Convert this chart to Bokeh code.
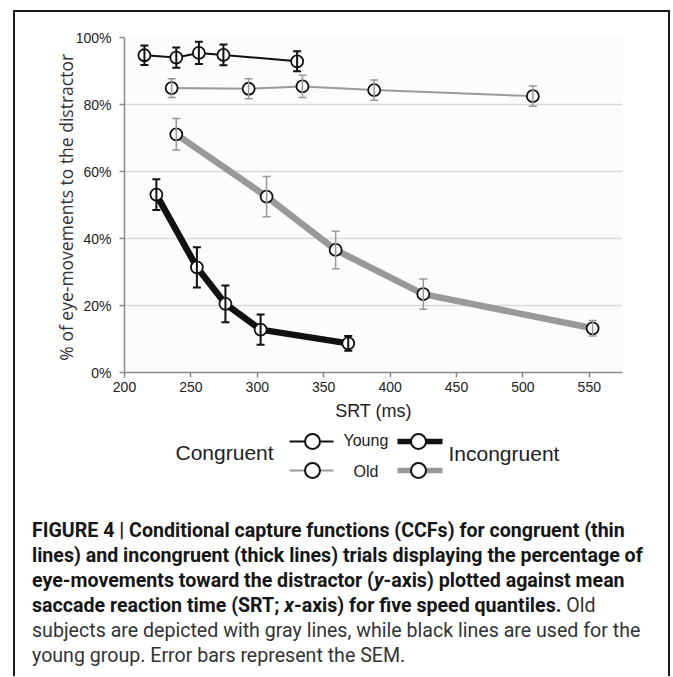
from bokeh.plotting import figure
from bokeh.models import (ColumnDataSource, Whisker, TeeHead, Range1d, FixedTicker,
                          CustomJSTickFormatter, Div)
from bokeh.layouts import column
from bokeh.embed import file_html
from bokeh.resources import INLINE
from bokeh.core.properties import value

# ---------------- data ----------------
young_cong_x = [215, 239, 256, 274.5, 330]
young_cong_y = [94.7, 94.0, 95.4, 94.8, 92.9]
young_cong_e = [2.9, 3.0, 3.3, 3.1, 3.0]

old_cong_x = [235.5, 293.5, 334, 388, 507.5]
old_cong_y = [84.9, 84.7, 85.4, 84.3, 82.5]
old_cong_e = [2.8, 3.0, 3.3, 3.0, 3.0]

old_incong_x = [239, 307, 359, 425, 552.5]
old_incong_y = [71.1, 52.5, 36.6, 23.4, 13.2]
old_incong_e = [4.7, 6.0, 5.6, 4.5, 2.3]

young_incong_x = [224, 254.5, 276, 302.5, 368.5]
young_incong_y = [53.1, 31.4, 20.5, 12.8, 8.7]
young_incong_e = [4.6, 6.0, 5.5, 4.5, 2.2]

x_ticks = [200, 250, 300, 350, 400, 450, 500, 550]
y_ticks = [0, 20, 40, 60, 80, 100]

caption_bold = [
    "FIGURE 4 | Conditional capture functions (CCFs) for congruent (thin",
    "lines) and incongruent (thick lines) trials displaying the percentage of",
    "eye-movements toward the distractor (y-axis) plotted against mean",
    "saccade reaction time (SRT; x-axis) for five speed quantiles.",
]
caption_tail = "Old"
caption_normal = [
    "subjects are depicted with gray lines, while black lines are used for the",
    "young group. Error bars represent the SEM.",
]

BLACK = "#111111"
GRAY = "#999999"
TICK_FONT = "Liberation Sans"

W = 653
ML, MR = 109, 46
# ---------------- chart ----------------
p = figure(width=W, height=420, output_backend="svg", toolbar_location=None,
           x_range=Range1d(200, 575), y_range=Range1d(0, 100),
           min_border_left=ML, min_border_right=MR, min_border_top=25,
           min_border_bottom=60)
p.outline_line_color = None
p.background_fill_color = "#fcfcfc"
p.xgrid.grid_line_color = None
p.ygrid.grid_line_color = "#ddd6d6"
p.ygrid.grid_line_width = 1.5
p.ygrid.ticker = FixedTicker(ticks=y_ticks)

p.xaxis.ticker = FixedTicker(ticks=x_ticks)
p.yaxis.ticker = FixedTicker(ticks=y_ticks)
p.yaxis.formatter = CustomJSTickFormatter(code="return tick + '%';")
for ax in (p.xaxis[0], p.yaxis[0]):
    ax.axis_line_color = "#8a8a8a"
    ax.axis_line_width = 1.5
    ax.major_tick_line_color = "#8a8a8a"
    ax.major_tick_line_width = 1.5
    ax.major_tick_out = 5
    ax.major_tick_in = 0
    ax.minor_tick_line_color = None
    ax.major_label_text_font = TICK_FONT
    ax.major_label_text_font_size = "14px"
    ax.major_label_text_color = "#222222"
p.xaxis.major_label_standoff = 4
p.yaxis.major_label_standoff = 8
p.xaxis.axis_label = "SRT (ms)"
p.xaxis.axis_label_text_font = TICK_FONT
p.xaxis.axis_label_text_font_size = "18px"
p.xaxis.axis_label_text_font_style = "normal"
p.xaxis.axis_label_text_color = "#222222"
p.xaxis.axis_label_standoff = 6
p.yaxis.axis_label = "% of eye-movements to the  distractor"
p.yaxis.axis_label_text_font = "Open Sans"
p.yaxis.axis_label_text_font_size = "17.5px"
p.yaxis.axis_label_text_font_style = "normal"
p.yaxis.axis_label_text_color = "#333333"
p.yaxis.axis_label_standoff = -5

series = [
    (old_incong_x, old_incong_y, old_incong_e, GRAY, 6.5, 1.5),
    (young_incong_x, young_incong_y, young_incong_e, BLACK, 6.5, 2.0),
    (old_cong_x, old_cong_y, old_cong_e, GRAY, 2.0, 1.5),
    (young_cong_x, young_cong_y, young_cong_e, BLACK, 2.0, 2.0),
]
for xs, ys, es, col, lw, ew in series:
    src = ColumnDataSource(dict(x=xs, y=ys,
                                lo=[a - b for a, b in zip(ys, es)],
                                hi=[a + b for a, b in zip(ys, es)]))
    p.line("x", "y", source=src, line_color=col, line_width=lw)
    wk = Whisker(source=src, base="x", lower="lo", upper="hi",
                 line_color=col, line_width=ew, level="glyph",
                 upper_head=TeeHead(size=8, line_color=col, line_width=ew),
                 lower_head=TeeHead(size=8, line_color=col, line_width=ew))
    p.add_layout(wk)
for xs, ys, es, col, lw, ew in series:
    p.scatter(xs, ys, size=12, marker="circle", fill_color="white",
              line_color=BLACK, line_width=1.8)

# ---------------- legend (page-pixel coordinates inside its frame) ----------------
LTOP, LBOT = 432, 518
q = figure(width=W, height=LBOT - LTOP, output_backend="svg", toolbar_location=None,
           x_range=Range1d(124, 622), y_range=Range1d(LBOT, LTOP),
           min_border_left=ML, min_border_right=MR,
           min_border_top=0, min_border_bottom=0)
q.axis.visible = False
q.grid.visible = False
q.outline_line_color = None
q.background_fill_color = None
q.border_fill_color = None

q.segment(x0=[289, 289], y0=[441, 470], x1=[333, 333], y1=[441, 470],
          line_color=[BLACK, GRAY], line_width=2)
q.segment(x0=[397, 397], y0=[441, 470], x1=[442, 442], y1=[441, 470],
          line_color=[BLACK, GRAY], line_width=5.5)
q.scatter([312, 418, 312, 418], [441, 441, 470, 470], size=15, fill_color="white",
          line_color=BLACK, line_width=2)
q.text(x=[175], y=[452], text=["Congruent"], text_font=value(TICK_FONT),
       text_font_size="21px", text_color="#222222", text_baseline="middle")
q.text(x=[448], y=[453], text=["Incongruent"], text_font=value(TICK_FONT),
       text_font_size="21px", text_color="#222222", text_baseline="middle")
q.text(x=[343, 353], y=[440, 471], text=["Young", "Old"], text_font=value(TICK_FONT),
       text_font_size="16px", text_color="#222222", text_baseline="middle")

# ---------------- caption ----------------
def fmt(s):
    return s.replace("(y-axis)", "(<i>y</i>-axis)").replace("; x-axis)", "; <i>x</i>-axis)")

lines_html = [f'<b style="color:#161616">{fmt(s)}</b>' for s in caption_bold]
lines_html[-1] += f" {caption_tail}"
lines_html += caption_normal
cap_html = ('<div style="padding-left:17px; font-family: Roboto, sans-serif; '
            'font-size:19.6px; line-height:25px; white-space:nowrap; color:#333333;">'
            + "<br>".join(lines_html) + "</div>")
cap = Div(text=cap_html, width=W, height=676 - LBOT, margin=0)

layout = column(p, q, cap, spacing=0,
                styles={"margin-left": "13px", "margin-top": "10px",
                        "border": "2px solid #1a1a1a", "border-bottom": "none"})

open("out.html", "w").write(file_html(layout, INLINE))
